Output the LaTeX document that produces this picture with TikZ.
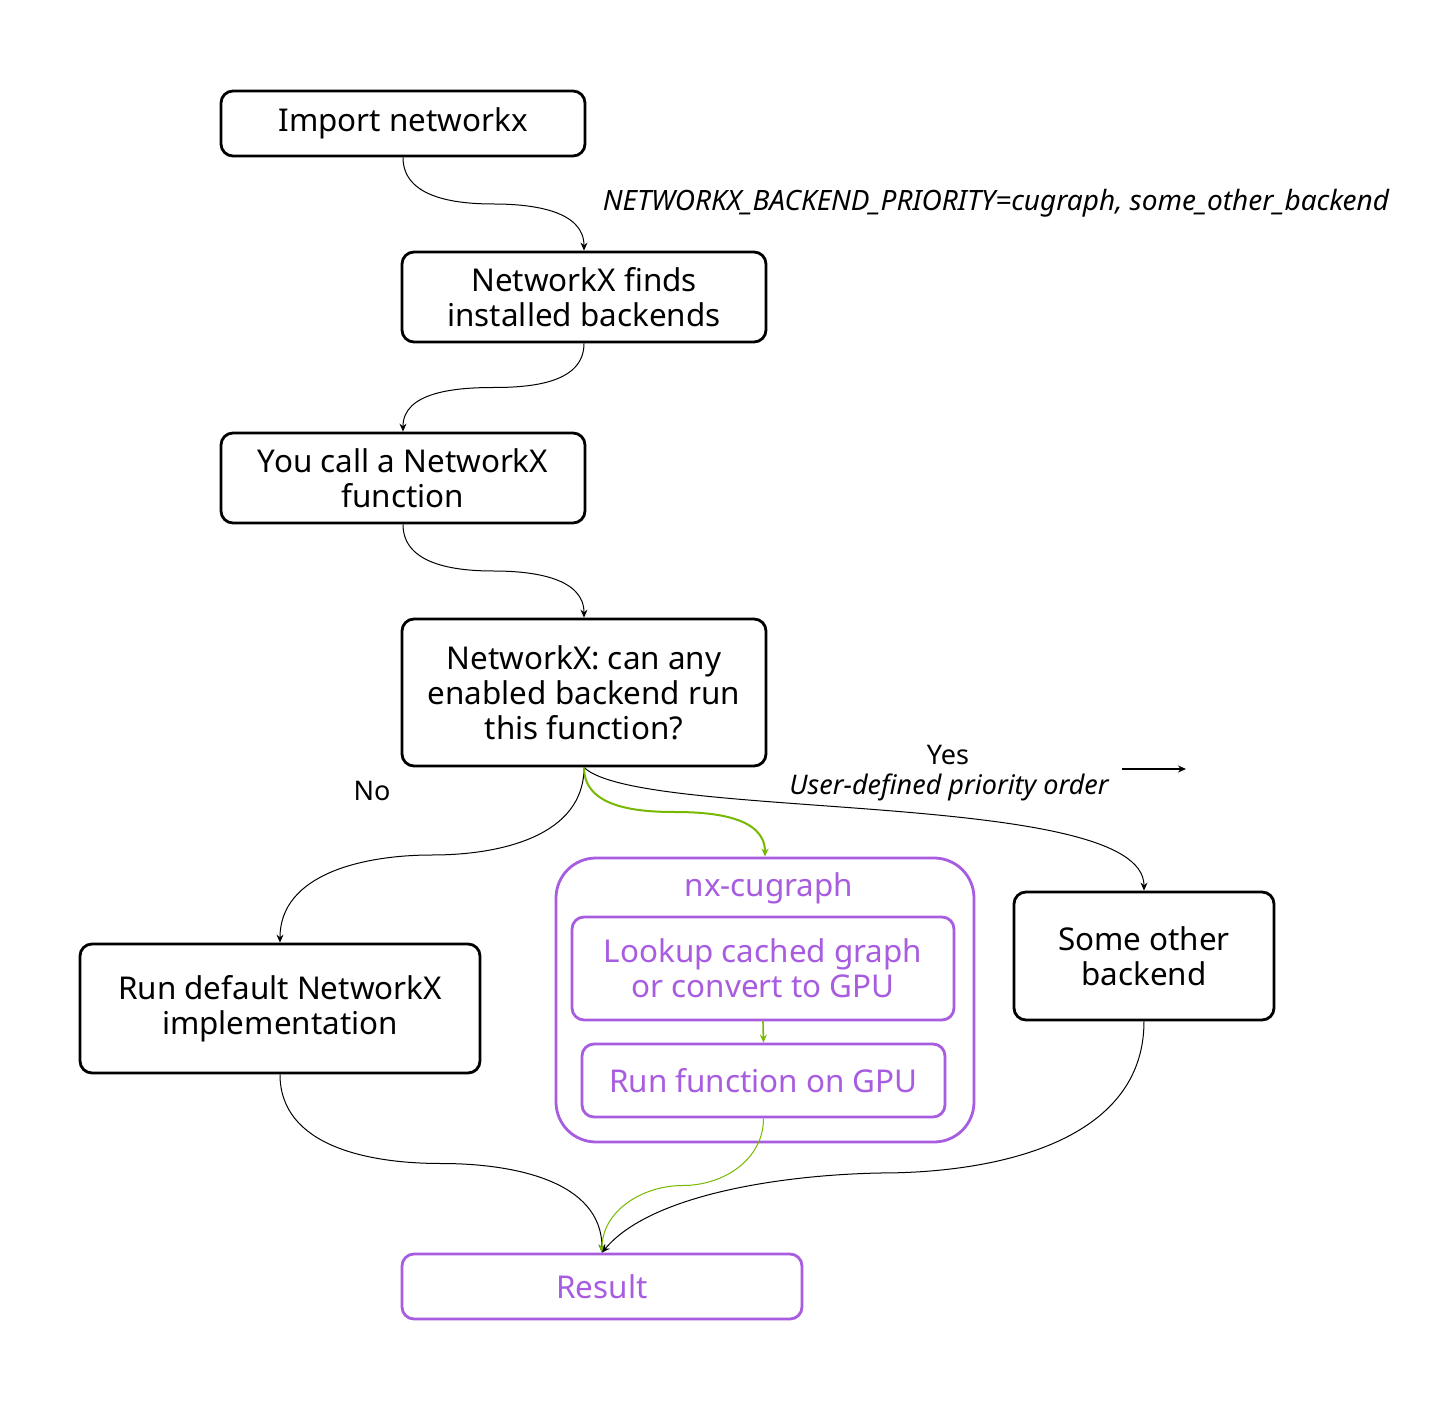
\documentclass[tikz,border=0pt]{standalone}
\usepackage{fontspec}
\setmainfont{Noto Sans}
\usetikzlibrary{arrows.meta,calc}
\definecolor{nvpurple}{RGB}{168,92,224}
\definecolor{nvgreen}{RGB}{118,185,0}
\begin{document}
\begin{tikzpicture}[x=0.5pt,y=-0.5pt,
  box/.style={draw=black,line width=1.4pt,rounded corners=6pt,align=center,inner sep=0pt,font=\fontsize{15.7}{17.5}\selectfont},
  pbox/.style={box,draw=nvpurple,text=nvpurple},
  conn/.style={line width=0.5pt,-{Stealth[length=4pt,width=3.5pt]}},
  gconn/.style={line width=0.5pt,draw=nvgreen,-{Stealth[length=4pt,width=3.5pt,fill=nvgreen]}},
  lbl/.style={font=\fontsize{13.5}{15}\selectfont,inner sep=0pt}]
\fill[white] (0,0) rectangle (1447,1401);
\useasboundingbox (0,0) rectangle (1447,1401);
% boxes
\node[box,minimum width=182pt,minimum height=32.5pt] (imp) at (403,123.5) {Import networkx};
\node[box,minimum width=182pt,minimum height=45pt] (find) at (584,297) {NetworkX finds\\installed backends};
\node[box,minimum width=182pt,minimum height=45pt] (call) at (403,478) {You call a NetworkX\\function};
\node[box,minimum width=182pt,minimum height=73.5pt] (can) at (584,692.5) {NetworkX: can any\\enabled backend run\\this function?};
\node[box,minimum width=200pt,minimum height=64.5pt] (def) at (280,1008.5) {Run default NetworkX\\implementation};
\node[pbox,rounded corners=20pt,minimum width=209pt,minimum height=142pt] (cu) at (765,1000) {};
\node[text=nvpurple,font=\fontsize{15.7}{17.5}\selectfont,inner sep=0pt] (cul) at (769,888) {nx-cugraph};
\node[pbox,minimum width=191pt,minimum height=51.5pt] (look) at (763,968.5) {Lookup cached graph\\or convert to GPU};
\node[pbox,minimum width=181.5pt,minimum height=36.5pt] (runf) at (763.5,1080.5) {Run function on GPU};
\node[box,minimum width=130pt,minimum height=64pt] (some) at (1144,956) {Some other\\backend};
\node[pbox,minimum width=200pt,minimum height=32.5pt] (res) at (602,1286.5) {Result};
% labels
\node[lbl,font=\fontsize{14}{16}\selectfont\itshape] (env) at (996,203) {NETWORKX\_BACKEND\_PRIORITY=cugraph, some\_other\_backend};
\node[lbl] (yes) at (948,755) {Yes};
\node[lbl,font=\fontsize{13.5}{15}\selectfont\itshape] (udp) at (949,787) {User-defined priority order};
\node[lbl] (no) at (372,791) {No};
\coordinate (ya) at (1122,769);
\coordinate (yb) at (1186,769);
\draw[line width=0.75pt,-{Stealth[length=4pt,width=3.5pt]}] (ya) -- (yb);
% waypoint of the lower-right connector
\coordinate (sr) at (880,1173);
% connectors
\draw[conn] (imp.south) to[out=-90,in=180] ($(imp.south)!0.5!(find.north)$) to[out=0,in=90] (find.north);
\draw[conn] (find.south) to[out=-90,in=0] ($(find.south)!0.5!(call.north)$) to[out=180,in=90] (call.north);
\draw[conn] (call.south) to[out=-90,in=180] ($(call.south)!0.5!(can.north)$) to[out=0,in=90] (can.north);
\draw[conn] (can.south) to[out=-90,in=0] ($(can.south)!0.5!(def.north)$) to[out=180,in=90] (def.north);
\draw[conn] (can.south) .. controls ($(can.south)+(56,54)$) and ($(some.north)+(0,-102)$) .. (some.north);
\draw[gconn,line width=1pt] (can.south) to[out=-90,in=180] ($(can.south)!0.5!(cu.north)$) to[out=0,in=90] (cu.north);
\draw[gconn,line width=0.8pt] (look.south) -- (runf.north);
\draw[conn] (def.south) to[out=-90,in=180] ($(def.south)!0.5!(res.north)$) to[out=0,in=90] (res.north);
\draw[gconn] (runf.south) to[out=-90,in=0] ($(runf.south)!0.5!(res.north)$) to[out=180,in=90] (res.north);
\draw[conn] (some.south) to[out=-90,in=0] (sr) .. controls (780,1175) and (650,1195) .. (res.north);
\end{tikzpicture}
\end{document}
